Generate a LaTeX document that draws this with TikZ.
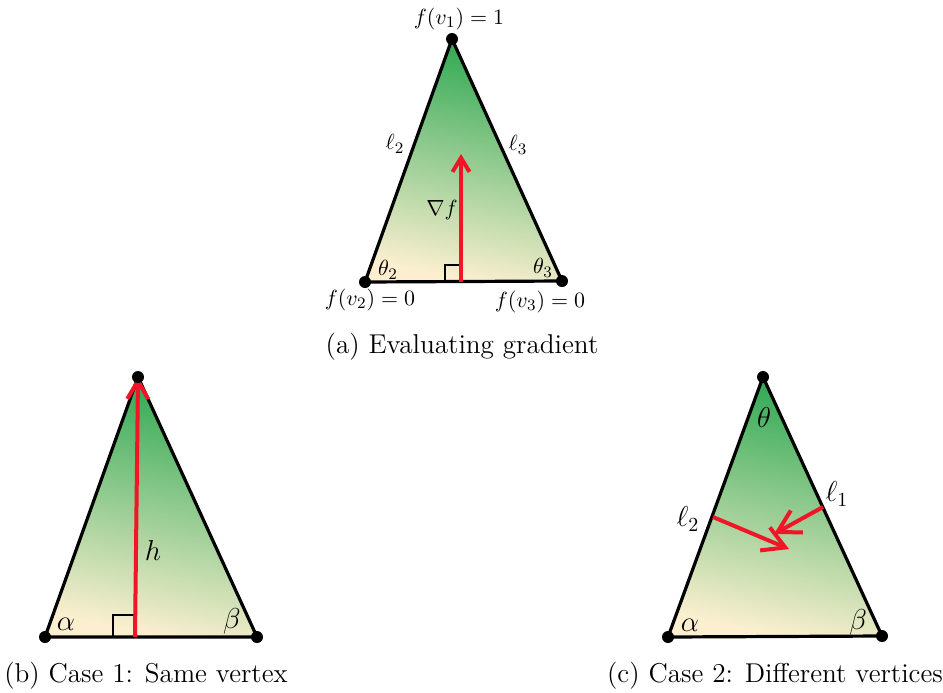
\documentclass[tikz,border=0pt]{standalone}
\usepackage{amsmath}
\usetikzlibrary{arrows.meta}

\definecolor{topgreen}{RGB}{46,168,82}
\definecolor{basecream}{RGB}{251,239,208}
\definecolor{gradred}{RGB}{240,22,40}

\tikzset{
    tri/.style={draw=black, line width=1.6pt, line join=round,
        top color=topgreen, bottom color=basecream, shading angle=-12},
    vert/.style={circle, fill=black, inner sep=0pt, minimum size=6pt},
    grad/.style={draw=gradred, line width=2pt, -{Straight Barb[length=#1, width=#1+1.5pt, line width=2pt]}},
    grad/.default=7pt,
    rightang/.style={draw=black, line width=0.6pt},
    lbl/.style={font=\fontsize{11.4}{13}\selectfont, inner sep=1pt},
    biglbl/.style={font=\fontsize{14}{16}\selectfont, inner sep=1pt},
    captext/.style={font=\fontsize{13.6}{15}\selectfont, inner sep=0pt}
}

\begin{document}
\begin{tikzpicture}[x=0.5pt, y=-0.5pt]
        \useasboundingbox (0, 0) rectangle (943, 692);

        % (a) evaluating gradient
        \coordinate (a1) at (452, 39);
        \coordinate (a2) at (365, 282);
        \coordinate (a3) at (562, 281);
        \coordinate (afoot) at (461, 281.5);
        \coordinate (ahead) at (461, 154);
        \draw[tri] (a1) -- (a2) -- (a3) -- cycle;
        \draw[rightang] (445, 281.5) -- (445, 265) -- (461, 265);
        \draw[grad] (afoot) -- (ahead);
        \foreach \v in {a1, a2, a3}
            \node[vert] at (\v) {};
        \node[lbl] (av1) at (459, 19) {$f(v_1) = 1$};
        \node[lbl] (av2) at (370, 300) {$f(v_2) = 0$};
        \node[lbl] (av3) at (540, 302) {$f(v_3) = 0$};
        \node[lbl] (al2) at (395, 144) {$\ell_2$};
        \node[lbl] (al3) at (518, 145) {$\ell_3$};
        \node[lbl] (anab) at (442, 210) {$\nabla f$};
        \node[lbl] (ath2) at (388, 270) {$\theta_2$};
        \node[lbl] (ath3) at (543, 268) {$\theta_3$};
        \node[captext] (capa) at (462, 347) {(a) Evaluating gradient};

        % (b) case 1
        \coordinate (b1) at (138, 377);
        \coordinate (b2) at (45, 637);
        \coordinate (b3) at (257, 637);
        \coordinate (bfoot) at (135, 637);
        \draw[tri] (b1) -- (b2) -- (b3) -- cycle;
        \draw[rightang] (113, 637) -- (113, 615) -- (135, 615);
        \draw[grad=9pt] (bfoot) -- (b1);
        \foreach \v in {b1, b2, b3}
            \node[vert] at (\v) {};
        \node[biglbl] (bh) at (153, 550) {$h$};
        \node[biglbl] (bal) at (66, 624) {$\alpha$};
        \node[biglbl] (bbe) at (232, 621) {$\beta$};
        \node[captext] (capb) at (146, 676) {(b) Case 1: Same vertex};

        % (c) case 2
        \coordinate (c1) at (763, 377);
        \coordinate (c2) at (668, 637);
        \coordinate (c3) at (882, 636);
        \coordinate (cl1) at (823, 507);
        \coordinate (cl2) at (713, 517);
        \coordinate (ctip1) at (774, 534);
        \coordinate (ctip2) at (789, 549);
        \draw[tri] (c1) -- (c2) -- (c3) -- cycle;
        \draw[grad=11pt] (cl1) -- (ctip1);
        \draw[grad=11pt] (cl2) -- (ctip2);
        \foreach \v in {c1, c2, c3}
            \node[vert] at (\v) {};
        \node[biglbl] (cth) at (764, 417) {$\theta$};
        \node[biglbl] (cel1) at (837, 494) {$\ell_1$};
        \node[biglbl] (cel2) at (688, 519) {$\ell_2$};
        \node[biglbl] (cal) at (690, 625) {$\alpha$};
        \node[biglbl] (cbe) at (858, 622) {$\beta$};
        \node[captext] (capc) at (775, 676) {(c) Case 2: Different vertices};
    \end{tikzpicture}
\end{document}
